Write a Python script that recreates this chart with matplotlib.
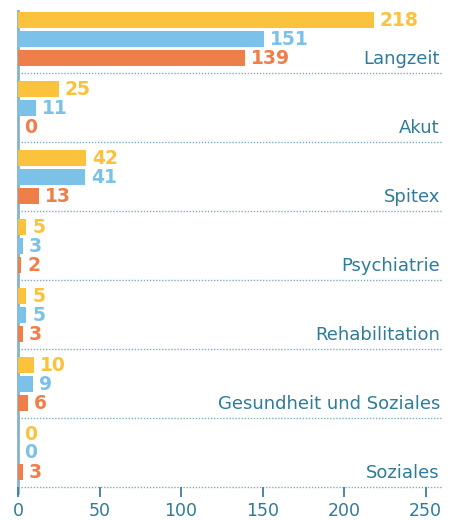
import matplotlib
matplotlib.use("Agg")
import matplotlib.pyplot as plt
import numpy as np

categories = ["Langzeit", "Akut", "Spitex", "Psychiatrie", "Rehabilitation",
              "Gesundheit und Soziales", "Soziales"]
series_yellow = [218, 25, 42, 5, 5, 10, 0]
series_blue = [151, 11, 41, 3, 5, 9, 0]
series_orange = [139, 0, 13, 2, 3, 6, 3]
xticks = [0, 50, 100, 150, 200, 250]

colors = ["#FBC23E", "#7CC1E8", "#EE7F4B"]
teal = "#2F7B98"
spine_col = "#86B3C6"

fig = plt.figure(figsize=(4.58, 5.21), dpi=100)
W, H = 458, 521
left_px, right_px, top_px, bot_px = 18, 442, 11, 487
ax = fig.add_axes([left_px / W, 1 - bot_px / H, (right_px - left_px) / W, (bot_px - top_px) / H])

n = len(categories)
offsets = [0.232, 0.507, 0.783]
bar_h = 0.232
xmax = 260
ax.set_xlim(0, xmax)
ax.set_ylim(n, 0.1)

px_per_unit = (426 - 18) / 250.0
gap = 6 / px_per_unit

for s, (vals, col) in enumerate(zip([series_yellow, series_blue, series_orange], colors)):
    ys = np.arange(n) + offsets[s]
    ax.barh(ys, vals, height=bar_h, color=col, zorder=2)
    for y, v in zip(ys, vals):
        ax.text(v + gap, y, str(v), color=col, fontsize=13.5, fontweight="bold",
                va="center", ha="left", family="DejaVu Sans", zorder=3)

for i, cat in enumerate(categories):
    ax.text(xmax - 1.3, i + offsets[2] + 0.01, cat, color=teal, fontsize=13,
            ha="right", va="center", family="DejaVu Sans")
    ax.plot([0, xmax], [i + 1, i + 1], color="#7FAEC2", lw=1.0,
            linestyle=(0, (1, 1.2)), zorder=1, clip_on=False)

for sp in ["top", "right", "bottom"]:
    ax.spines[sp].set_visible(False)
ax.spines["left"].set_color(spine_col)
ax.spines["left"].set_linewidth(2)
ax.spines["left"].set_bounds(n + 0.08, 0.1)
ax.spines["left"].set_zorder(1)

ax.set_yticks([])
ax.set_xticks(xticks)
ax.set_xticklabels([str(t) for t in xticks])
ax.tick_params(axis="x", length=7, width=1.3, color="#3F7F99", labelcolor=teal,
               labelsize=12.5, pad=4)

fig.savefig("out.png", dpi=100)
